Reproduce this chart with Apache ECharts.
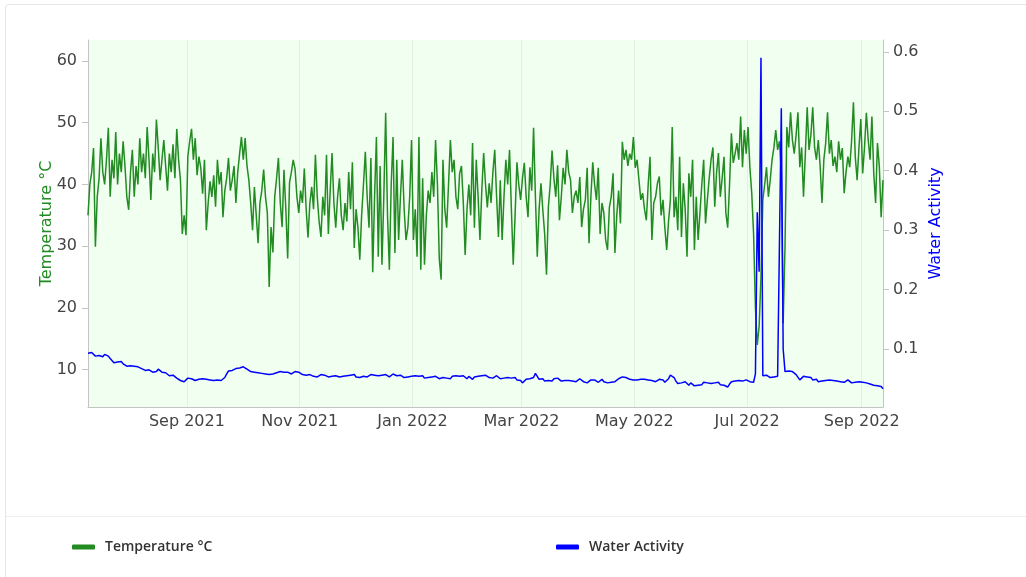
<!DOCTYPE html>
<html>
<head>
<meta charset="utf-8">
<script src="https://cdn.jsdelivr.net/npm/echarts@6/dist/echarts.min.js"></script>
<style>
  html, body { margin: 0; padding: 0; background: #ffffff; }
  #card { position: absolute; left: 5px; top: 4px; width: 1040px; height: 600px;
          border: 1px solid #e6e6e6; border-radius: 4px; box-sizing: border-box; }
  #divider { position: absolute; left: 6px; top: 516px; width: 1020px; height: 1px; background: #eeeeee; }
  #chart { position: absolute; left: 0; top: 0; width: 1026px; height: 577px; }
</style>
</head>
<body>
<div id="card"></div>
<div id="divider"></div>
<div id="chart"></div>
<script>
// Daily readings, first sample on 9 Jul 2021 (noon), one per day
const startDate = [2021, 6, 9, 12];

// Temperature (°C), one value per day
const temperature = [
  35, 40, 42, 45.9, 29.9, 38, 41, 47.5, 42, 40,
  44, 49.2, 38, 44, 41, 48.5, 40, 45, 42, 47,
  43, 38, 35.9, 42, 45.6, 38, 43, 40, 47.5, 42,
  45, 41, 49.3, 44, 37.5, 45, 42, 50.5, 46, 40.7,
  44, 47.2, 43, 39, 45, 42, 46.5, 41, 49, 44,
  40.7, 32, 35, 31.8, 44.5, 47, 49, 44, 47.5, 41.5,
  44.5, 42.7, 38.5, 44, 32.6, 37, 40.5, 38, 41.5, 36.4,
  44, 40, 42, 34.7, 39, 41, 44.3, 39, 40.7, 43,
  37, 42, 45, 47.7, 44, 47.5, 43, 40.7, 37, 32.6,
  39.6, 35, 30.5, 37, 39, 42.4, 38, 35.4, 23.4, 33.1,
  29, 38, 41, 44.3, 37, 33.1, 42.4, 36, 28, 40.3,
  42, 44, 42.5, 38, 35.4, 39, 37, 42.6, 36, 31.4,
  37, 39.6, 36, 44.8, 38, 34, 31.5, 38, 35, 44.8,
  32, 39, 45.1, 37, 33, 38, 41, 35, 32.6, 37,
  34, 42, 36, 43.6, 29.7, 36, 33, 27.8, 35, 40,
  45.3, 38, 33, 44.3, 25.8, 38, 47.7, 28.3, 43, 27,
  38, 51.6, 35, 26.2, 40, 47.7, 28.9, 44, 31, 38,
  44, 36, 31, 33, 38, 47.2, 31, 36, 28.3, 47.7,
  26.2, 41, 27, 35, 39, 37, 42, 38, 47.2, 40,
  28, 24.6, 44, 36, 33, 40, 47.2, 42, 44, 38,
  36, 41.8, 43, 37, 28.6, 36, 40, 35, 46.7, 33,
  44, 38, 31, 39, 45.1, 40, 36.3, 40.2, 37, 42,
  45.6, 38, 31.5, 40.7, 31, 38, 44, 40, 45.6, 36,
  27, 35, 43.6, 40, 37.5, 41, 43.5, 38, 34.7, 42.8,
  39, 49.2, 38, 28.3, 36, 40.2, 35.9, 32, 25.4, 36.3,
  40, 45.5, 41, 38, 43.1, 34.2, 38, 42.7, 40, 45.6,
  42, 40.7, 35.4, 38, 39, 37, 41.2, 33.1, 36, 37.5,
  42.7, 30.5, 38, 43.6, 40, 37.5, 42.7, 32, 37, 35.4,
  31, 29.4, 36.3, 38, 41.8, 28.9, 35, 39, 33.7, 46.9,
  44, 45.6, 43, 45, 44, 47.7, 42.7, 44, 40.7, 37.5,
  38.6, 36, 34.2, 40, 44.5, 31, 37, 38, 40.2, 41.3,
  35, 37.5, 33, 29.4, 34, 37.5, 49.3, 34.7, 38, 32.6,
  44.5, 31.5, 40.2, 36, 28.3, 41.8, 38, 44, 29.4, 38,
  31, 35.4, 40, 44, 33.7, 37.5, 41, 44, 46, 36.4,
  42, 45.1, 38, 41, 44.5, 35.4, 33, 40, 48.3, 43.5,
  45, 46.7, 44, 51, 42.8, 48.8, 45, 49.3, 42.8, 38.6,
  32, 20, 14, 17, 25, 37.5, 40, 42.8, 38, 40.7,
  44, 46, 48.8, 45.6, 47, 42, 17.5, 30, 49.3, 46,
  51.7, 47.2, 45, 48, 51.7, 42.8, 46, 38, 45, 52.5,
  45.6, 48, 52.5, 46, 44, 47.2, 43, 37, 44, 46.7,
  51.7, 45, 47.2, 43, 44.5, 42, 47, 44, 45.9, 38.6,
  42, 44.5, 42.8, 47, 53.3, 44.5, 40.7, 46, 50.6, 41.8,
  46, 51.6, 47.2, 44, 51, 41.8, 37, 46.7, 43, 34.7,
  40.7
];

// Water activity (aw), one value per day
const waterActivity = [
  0.093, 0.092, 0.094, 0.091, 0.088, 0.086, 0.089, 0.090, 0.087, 0.091,
  0.090, 0.088, 0.084, 0.081, 0.077, 0.080, 0.078, 0.076, 0.079, 0.075,
  0.073, 0.071, 0.070, 0.072, 0.069, 0.071, 0.068, 0.070, 0.069, 0.067,
  0.066, 0.064, 0.062, 0.065, 0.063, 0.061, 0.064, 0.062, 0.066, 0.063,
  0.061, 0.059, 0.060, 0.057, 0.055, 0.053, 0.056, 0.054, 0.051, 0.049,
  0.047, 0.046, 0.045, 0.048, 0.051, 0.052, 0.050, 0.049, 0.047, 0.047,
  0.049, 0.048, 0.050, 0.047, 0.049, 0.046, 0.048, 0.050, 0.047, 0.049,
  0.048, 0.046, 0.047, 0.047, 0.052, 0.058, 0.063, 0.065, 0.064, 0.066,
  0.067, 0.066, 0.068, 0.069, 0.070, 0.068, 0.066, 0.064, 0.062, 0.060,
  0.061, 0.059, 0.060, 0.058, 0.059, 0.057, 0.058, 0.056, 0.057, 0.056,
  0.058, 0.061, 0.060, 0.063, 0.062, 0.060, 0.061, 0.059, 0.061, 0.060,
  0.058, 0.060, 0.062, 0.061, 0.061, 0.059, 0.057, 0.058, 0.056, 0.055,
  0.057, 0.055, 0.054, 0.056, 0.053, 0.055, 0.057, 0.054, 0.056, 0.055,
  0.053, 0.056, 0.054, 0.057, 0.055, 0.056, 0.053, 0.056, 0.054, 0.057,
  0.055, 0.052, 0.056, 0.054, 0.057, 0.053, 0.055, 0.052, 0.051, 0.054,
  0.056, 0.053, 0.055, 0.057, 0.054, 0.056, 0.053, 0.055, 0.052, 0.056,
  0.054, 0.057, 0.055, 0.053, 0.056, 0.058, 0.058, 0.055, 0.053, 0.056,
  0.054, 0.052, 0.055, 0.053, 0.056, 0.054, 0.051, 0.055, 0.052, 0.054,
  0.053, 0.055, 0.051, 0.054, 0.052, 0.050, 0.053, 0.051, 0.054, 0.052,
  0.050, 0.049, 0.052, 0.054, 0.051, 0.053, 0.050, 0.054, 0.052, 0.055,
  0.052, 0.054, 0.051, 0.055, 0.053, 0.050, 0.054, 0.052, 0.049, 0.053,
  0.051, 0.054, 0.052, 0.055, 0.053, 0.056, 0.055, 0.052, 0.054, 0.051,
  0.053, 0.055, 0.052, 0.050, 0.053, 0.051, 0.054, 0.052, 0.049, 0.051,
  0.050, 0.052, 0.048, 0.051, 0.047, 0.043, 0.046, 0.049, 0.047, 0.050,
  0.048, 0.052, 0.059, 0.054, 0.049, 0.047, 0.050, 0.046, 0.043, 0.047,
  0.049, 0.046, 0.050, 0.048, 0.051, 0.048, 0.046, 0.049, 0.047, 0.050,
  0.047, 0.049, 0.046, 0.048, 0.045, 0.047, 0.050, 0.048, 0.045, 0.047,
  0.043, 0.046, 0.048, 0.045, 0.048, 0.047, 0.044, 0.046, 0.049, 0.045,
  0.043, 0.043, 0.046, 0.044, 0.047, 0.045, 0.048, 0.050, 0.052, 0.053,
  0.051, 0.052, 0.050, 0.049, 0.051, 0.048, 0.050, 0.048, 0.046, 0.049,
  0.047, 0.049, 0.046, 0.048, 0.050, 0.047, 0.048, 0.045, 0.047, 0.049,
  0.046, 0.048, 0.044, 0.045, 0.050, 0.056, 0.059, 0.052, 0.046, 0.042,
  0.040, 0.043, 0.041, 0.045, 0.042, 0.039, 0.043, 0.040, 0.038, 0.036,
  0.039, 0.042, 0.040, 0.044, 0.041, 0.043, 0.040, 0.042, 0.045, 0.043,
  0.041, 0.044, 0.040, 0.042, 0.039, 0.037, 0.036, 0.041, 0.045, 0.048,
  0.046, 0.044, 0.047, 0.045, 0.046, 0.048, 0.048, 0.046, 0.045, 0.047,
  0.044, 0.058, 0.330, 0.230, 0.590, 0.055, 0.053, 0.056, 0.054, 0.052,
  0.055, 0.053, 0.056, 0.054, 0.057, 0.505, 0.100, 0.062, 0.061, 0.063,
  0.060, 0.062, 0.059, 0.057, 0.055, 0.048, 0.051, 0.054, 0.056, 0.053,
  0.050, 0.052, 0.048, 0.046, 0.049, 0.045, 0.043, 0.046, 0.044, 0.047,
  0.049, 0.048, 0.045, 0.047, 0.044, 0.046, 0.043, 0.045, 0.047, 0.044,
  0.046, 0.048, 0.045, 0.043, 0.046, 0.044, 0.047, 0.045, 0.042, 0.044,
  0.043, 0.043, 0.045, 0.041, 0.043, 0.039, 0.041, 0.038, 0.036, 0.037,
  0.033
];

// Axis tick labels
const tempTicks = [10, 20, 30, 40, 50, 60];
const awTicks = [0.1, 0.2, 0.3, 0.4, 0.5, 0.6];
const monthTicks = [[2021, 8], [2021, 10], [2022, 0], [2022, 2], [2022, 4], [2022, 6], [2022, 8]];
const monthNames = ['Jan', 'Feb', 'Mar', 'Apr', 'May', 'Jun', 'Jul', 'Aug', 'Sep', 'Oct', 'Nov', 'Dec'];

function dayStamp(i) {
  const d = new Date(startDate[0], startDate[1], startDate[2], startDate[3]);
  d.setDate(d.getDate() + i);
  return d.getTime();
}

const tempData = temperature.map((v, i) => [dayStamp(i), v]);
const awData = waterActivity.map((v, i) => [dayStamp(i), v]);
const monthStamps = monthTicks.map(m => new Date(m[0], m[1], 1).getTime());

const axisFont = 'DejaVu Sans, Verdana, sans-serif';
const legendText = { fontFamily: 'Open Sans, sans-serif', fontWeight: 600, fontSize: 14, color: '#333', padding: [0, 0, 0, 5] };

const chart = echarts.init(document.getElementById('chart'), null, { renderer: 'canvas' });
chart.setOption({
  animation: false,
  backgroundColor: 'transparent',
  grid: {
    left: 88, right: 143, top: 40, bottom: 170,
    show: true, backgroundColor: '#f0fff0', borderWidth: 0
  },
  legend: [
    {
      data: ['Temperature °C'], left: 67, top: 535,
      icon: 'roundRect', itemWidth: 23, itemHeight: 5,
      textStyle: legendText
    },
    {
      data: ['Water Activity'], left: 551, top: 535,
      icon: 'roundRect', itemWidth: 23, itemHeight: 5,
      textStyle: legendText
    }
  ],
  xAxis: {
    // timestamps on a linear scale, labelled as "Mon YYYY" at the start of every other month
    type: 'value',
    min: tempData[0][0],
    max: tempData[tempData.length - 1][0],
    axisLine: { show: true, lineStyle: { color: '#c4c4c4', width: 1 } },
    axisTick: { show: false, customValues: monthStamps },
    splitLine: { show: true, lineStyle: { color: '#e2efe2', width: 1 } },
    axisLabel: {
      customValues: monthStamps,
      margin: 7,
      fontFamily: axisFont, fontSize: 16, color: '#444',
      formatter: function (v) {
        const d = new Date(v);
        return monthNames[d.getMonth()] + ' ' + d.getFullYear();
      }
    }
  },
  yAxis: [
    {
      type: 'value', position: 'left',
      min: 3.96, max: 63.4,
      name: 'Temperature °C', nameLocation: 'middle', nameGap: 33, nameMoveOverlap: false,
      nameTextStyle: { color: '#228b22', fontFamily: axisFont, fontSize: 16 },
      axisLine: { show: true, lineStyle: { color: '#c4c4c4', width: 1 } },
      axisTick: { show: true, length: 6, customValues: tempTicks, lineStyle: { color: '#c4c4c4' } },
      axisLabel: { customValues: tempTicks, margin: 11, fontFamily: axisFont, fontSize: 16, color: '#444' },
      splitLine: { show: false }
    },
    {
      type: 'value', position: 'right',
      min: 0.0024, max: 0.62,
      name: 'Water Activity', nameLocation: 'middle', nameGap: 45, nameMoveOverlap: false,
      nameTextStyle: { color: '#0000ff', fontFamily: axisFont, fontSize: 16 },
      axisLine: { show: true, lineStyle: { color: '#c4c4c4', width: 1 } },
      axisTick: { show: true, length: 6, customValues: awTicks, lineStyle: { color: '#c4c4c4' } },
      axisLabel: {
        customValues: awTicks, margin: 10, fontFamily: axisFont, fontSize: 16, color: '#444',
        formatter: v => v.toFixed(1)
      },
      splitLine: { show: false }
    }
  ],
  series: [
    {
      name: 'Temperature °C', type: 'line', yAxisIndex: 0,
      data: tempData, showSymbol: false, color: '#228b22',
      lineStyle: { width: 1.5, color: '#228b22' }
    },
    {
      name: 'Water Activity', type: 'line', yAxisIndex: 1,
      data: awData, showSymbol: false, color: '#0000ff',
      lineStyle: { width: 1.5, color: '#0000ff' }
    }
  ]
});
</script>
</body>
</html>
